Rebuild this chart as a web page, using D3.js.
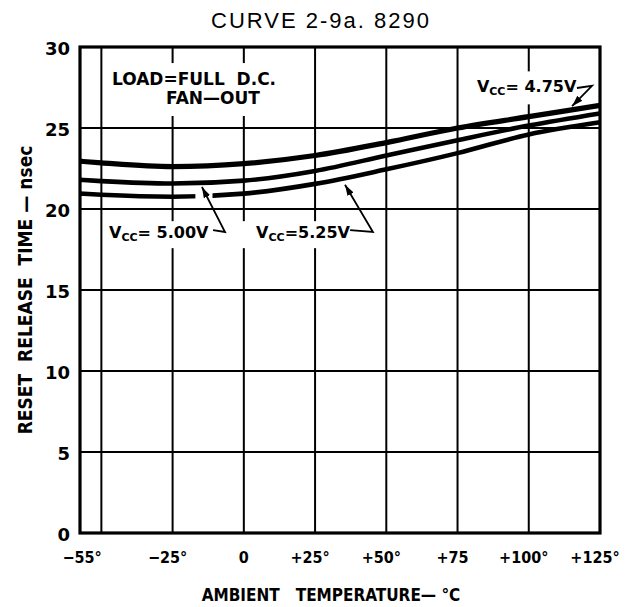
<!DOCTYPE html>
<html><head><meta charset="utf-8">
<script src="https://cdn.jsdelivr.net/npm/d3@7"></script>
<style>body{margin:0;background:#fff} svg{display:block}</style>
</head><body><svg id="c" width="639" height="607"></svg>
<script>
// ---- data ----
const temps  = [-57.5, -50, -25, 0, 25, 50, 75, 100, 125];
const vcc475 = [22.95, 22.85, 22.62, 22.8, 23.3, 24.1, 25.0, 25.7, 26.4];
const vcc500 = [21.8, 21.72, 21.57, 21.75, 22.35, 23.3, 24.25, 25.15, 25.9];
const vcc525 = [20.95, 20.88, 20.76, 20.95, 21.55, 22.45, 23.45, 24.6, 25.35];
const gap525 = [-17, -11];
const xTicks = [-55, -25, 0, 25, 50, 75, 100, 125];
const xTickLabels = ["\u221255\u00b0", "\u221225\u00b0", "0", "+25\u00b0", "+50\u00b0", "+75", "+100\u00b0", "+125\u00b0"];
const xGrid = [-50, -25, 0, 25, 50, 75, 100];
const yTicks = [0, 5, 10, 15, 20, 25, 30];
const yGrid = [5, 10, 15, 20, 25];

const svg = d3.select("#c");
const x = d3.scaleLinear().domain([-57.5, 125]).range([80, 600]);
const y = d3.scaleLinear().domain([0, 30]).range([533, 47]);
const BOLD = "'DejaVu Sans', sans-serif";
const COND = "'DejaVu Sans Condensed', 'DejaVu Sans', sans-serif";

// defs
const defs = svg.append("defs");
defs.append("marker").attr("id", "ah").attr("viewBox", "0 0 10 10")
  .attr("refX", 10).attr("refY", 5).attr("markerWidth", 11).attr("markerHeight", 11)
  .attr("markerUnits", "userSpaceOnUse").attr("orient", "auto")
  .append("path").attr("d", "M0,1.8 L10,5 L0,8.2 Z").attr("fill", "#000");
defs.append("clipPath").attr("id", "gapclip").append("path")
  .attr("d", `M0,0 H${x(gap525[0])} V607 H0 Z M${x(gap525[1])},0 H639 V607 H${x(gap525[1])} Z`);

// title
svg.append("text").attr("x", 321).attr("y", 28).attr("text-anchor", "middle")
  .attr("font-family", "'Liberation Sans', Arial, sans-serif").attr("font-size", 22)
  .attr("letter-spacing", 2).text("CURVE 2-9a. 8290");

// grid
const grid = svg.append("g").attr("stroke", "#000").attr("stroke-width", 2);
grid.selectAll(".vg").data(xGrid).join("line")
  .attr("x1", d => x(d)).attr("x2", d => x(d)).attr("y1", y(30)).attr("y2", y(0));
grid.selectAll(".hg").data(yGrid).join("line")
  .attr("x1", x(-57.5)).attr("x2", x(125)).attr("y1", d => y(d)).attr("y2", d => y(d));

// white backing layer
const backs = svg.append("g");

// frame
svg.append("rect").attr("x", x(-57.5)).attr("y", y(30))
  .attr("width", x(125) - x(-57.5)).attr("height", y(0) - y(30))
  .attr("fill", "none").attr("stroke", "#000").attr("stroke-width", 3.2);

// curves
const line = d3.line().x(d => x(d[0])).y(d => y(d[1])).curve(d3.curveMonotoneX);
const series = [
  { v: vcc475, w: 5.2 },
  { v: vcc500, w: 4.6 },
  { v: vcc525, w: 4.6, clip: true }
];
series.forEach(s => {
  svg.append("path").attr("d", line(temps.map((t, i) => [t, s.v[i]])))
    .attr("fill", "none").attr("stroke", "#000").attr("stroke-width", s.w)
    .attr("clip-path", s.clip ? "url(#gapclip)" : null);
});

// axis tick labels
svg.append("g").selectAll("text").data(yTicks).join("text")
  .attr("x", 70).attr("y", d => y(d) + 1).attr("text-anchor", "end")
  .attr("dominant-baseline", "central").attr("font-family", BOLD)
  .attr("font-weight", "bold").attr("font-size", 18).text(d => d);
svg.append("g").selectAll("text").data(xTicks).join("text")
  .attr("x", (d, i) => x(d) + (xTickLabels[i] === "0" ? 0 : -5)).attr("y", 563)
  .attr("text-anchor", "middle").attr("font-family", COND)
  .attr("font-weight", "bold").attr("font-size", 16).text((d, i) => xTickLabels[i]);

// axis titles
svg.append("text").attr("x", 331).attr("y", 601).attr("text-anchor", "middle")
  .attr("font-family", COND).attr("font-weight", "bold").attr("font-size", 17)
  .style("white-space", "pre").text("AMBIENT   TEMPERATURE\u2014 \u00b0C");
svg.append("text").attr("transform", "translate(32,290) rotate(-90)")
  .attr("text-anchor", "middle").attr("font-family", COND).attr("font-weight", "bold")
  .attr("font-size", 19).style("white-space", "pre").text("RESET  RELEASE  TIME \u2014 nsec");

// annotations
const ann = svg.append("g");
function backing(nodes, px, py) {
  let x0 = Infinity, y0 = Infinity, x1 = -Infinity, y1 = -Infinity;
  nodes.forEach(n => { const b = n.getBBox(); x0 = Math.min(x0, b.x); y0 = Math.min(y0, b.y);
    x1 = Math.max(x1, b.x + b.width); y1 = Math.max(y1, b.y + b.height); });
  backs.append("rect").attr("x", x0 - px[0]).attr("y", y0 - py[0])
    .attr("width", x1 - x0 + px[0] + px[1]).attr("height", y1 - y0 + py[0] + py[1]).attr("fill", "#fff");
}
const load1 = ann.append("text").attr("x", x(-46.3)).attr("y", y(27.65))
  .attr("font-family", BOLD).attr("font-weight", "bold").attr("font-size", 17).text("LOAD=FULL  D.C.")
  .style("white-space", "pre");
const load2 = ann.append("text").attr("x", x(-27.3)).attr("y", y(26.48))
  .attr("font-family", BOLD).attr("font-weight", "bold").attr("font-size", 17).text("FAN\u2014OUT");
backing([load1.node(), load2.node()], [8, 8], [6, 8]);

function vccLabel(t, v, rest) {
  const tx = ann.append("text").attr("x", x(t)).attr("y", y(v))
    .attr("font-family", BOLD).attr("font-weight", "bold").attr("font-size", 16);
  tx.append("tspan").text("V");
  tx.append("tspan").attr("font-size", 11).attr("dy", 3).text("CC");
  tx.append("tspan").attr("dy", -3).style("white-space", "pre").text(rest);
  return tx;
}
const l475 = vccLabel(81.8, 27.2, "= 4.75V");
const l500 = vccLabel(-47.3, 18.2, "= 5.00V");
const l525 = vccLabel(4.3, 18.2, "=5.25V");
backing([l475.node()], [6, 10], [6, 6]);
backing([l500.node(), l525.node()], [4, 8], [2, 4]);

const leaders = [
  [[116.9, 27.47], [122.2, 27.6], [115.2, 26.35]],
  [[-10.8, 18.7], [-6.6, 18.58], [-14.7, 21.36]],
  [[37.3, 18.7], [45.3, 18.58], [35.5, 21.5]]
];
const ll = d3.line().x(d => x(d[0])).y(d => y(d[1]));
leaders.forEach(p => ann.append("path").attr("d", ll(p)).attr("fill", "none")
  .attr("stroke", "#000").attr("stroke-width", 1.8).attr("marker-end", "url(#ah)"));
</script></body></html>
